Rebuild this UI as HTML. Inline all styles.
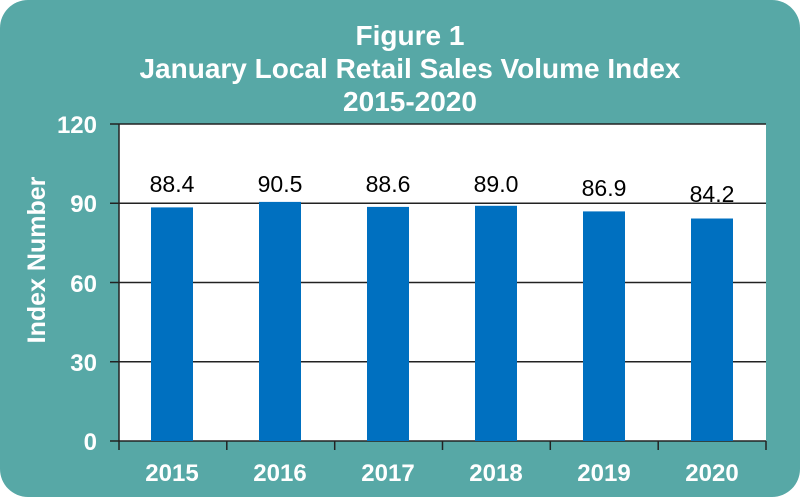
<!DOCTYPE html>
<html><head><style>
html,body{margin:0;padding:0;background:#fff;}
</style></head><body>
<svg width="800" height="497" xmlns="http://www.w3.org/2000/svg" font-family="Liberation Sans, Arial, sans-serif">
<rect x="0" y="0" width="800" height="497" rx="28" fill="#57A8A6"/>
<g fill="#fff" font-weight="bold" font-size="28" text-anchor="middle">
<text x="410" y="45">Figure 1</text>
<text x="410" y="78">January Local Retail Sales Volume Index</text>
<text x="410" y="111">2015-2020</text>
</g>
<rect x="119" y="124" width="647" height="317" fill="#fff"/>
<g stroke="#222" stroke-width="1.5">
<line x1="110" y1="124" x2="766" y2="124"/>
<line x1="110" y1="203.3" x2="766" y2="203.3"/>
<line x1="110" y1="282.5" x2="766" y2="282.5"/>
<line x1="110" y1="361.8" x2="766" y2="361.8"/>
<line x1="110" y1="441" x2="766" y2="441"/>
<line x1="119" y1="124" x2="119" y2="450"/>
<line x1="226.8" y1="441" x2="226.8" y2="450"/>
<line x1="334.7" y1="441" x2="334.7" y2="450"/>
<line x1="442.5" y1="441" x2="442.5" y2="450"/>
<line x1="550.3" y1="441" x2="550.3" y2="450"/>
<line x1="658.2" y1="441" x2="658.2" y2="450"/>
<line x1="766" y1="441" x2="766" y2="450"/>
</g>
<g fill="#0070C0">
<rect x="151" y="207.4" width="42" height="233.6"/>
<rect x="259" y="201.9" width="42" height="239.1"/>
<rect x="367" y="206.9" width="42" height="234.1"/>
<rect x="475" y="205.8" width="42" height="235.2"/>
<rect x="583" y="211.4" width="42" height="229.6"/>
<rect x="691" y="218.5" width="42" height="222.5"/>
</g>
<g fill="#000" font-size="23" text-anchor="middle">
<text x="172" y="192">88.4</text>
<text x="280" y="192">90.5</text>
<text x="388" y="192">88.6</text>
<text x="496" y="192">89.0</text>
<text x="604" y="196">86.9</text>
<text x="712" y="202">84.2</text>
</g>
<g fill="#fff" font-weight="bold" font-size="24" text-anchor="end">
<text x="97" y="133">120</text>
<text x="97" y="212">90</text>
<text x="97" y="292">60</text>
<text x="97" y="371">30</text>
<text x="97" y="450">0</text>
</g>
<g fill="#fff" font-weight="bold" font-size="24" text-anchor="middle">
<text x="172" y="481">2015</text>
<text x="280" y="481">2016</text>
<text x="388" y="481">2017</text>
<text x="496" y="481">2018</text>
<text x="604" y="481">2019</text>
<text x="712" y="481">2020</text>
</g>
<text x="0" y="0" fill="#fff" font-weight="bold" font-size="25" text-anchor="middle" transform="translate(45,260) rotate(-90)">Index Number</text>
</svg>
</body></html>
